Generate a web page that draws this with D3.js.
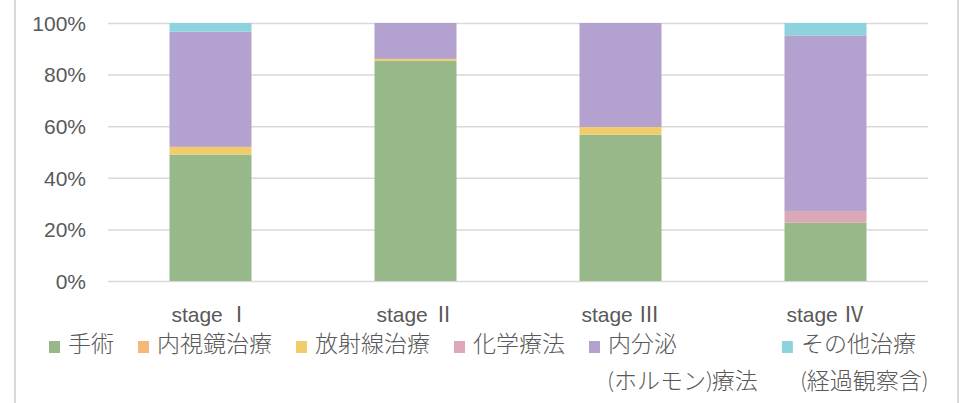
<!DOCTYPE html>
<html><head><meta charset="utf-8">
<script src="https://cdn.jsdelivr.net/npm/d3@7"></script>
<style>
html,body{margin:0;padding:0;background:#fff;}
svg{display:block;font-family:Lato,"Noto Sans CJK JP",sans-serif;}
</style></head>
<body>
<svg id="c" width="967" height="403"></svg>
<script>
const categories = ["stage Ⅰ", "stage Ⅱ", "stage Ⅲ", "stage Ⅳ"];
const seriesNames = ["手術", "内視鏡治療", "放射線治療", "化学療法", "内分泌\n(ホルモン)療法", "その他治療\n(経過観察含)"];
const seriesColors = ["#97b98a", "#f6b877", "#f0cd6a", "#dba8b8", "#b3a2cf", "#8dd3de"];
const surgery      = [49.0, 85.3, 56.7, 22.6];
const endoscopic   = [0, 0, 0, 0];
const radiation    = [3.0, 0.8, 3.0, 0];
const chemo        = [0, 0, 0, 4.5];
const hormone      = [44.6, 13.9, 40.3, 68.1];
const other        = [3.4, 0, 0, 4.8];
const yTicks = [0, 0.2, 0.4, 0.6, 0.8, 1.0];

const seriesValues = [surgery, endoscopic, radiation, chemo, hormone, other];
const rows = categories.map((c, i) => {
  const r = {cat: c};
  seriesValues.forEach((s, k) => r["s" + k] = s[i]);
  return r;
});
const keys = seriesValues.map((_, k) => "s" + k);
const stacked = d3.stack().keys(keys).offset(d3.stackOffsetExpand)(rows);

const svg = d3.select("#c");
const textColor = "#595959";

// outer border
svg.append("rect").attr("x", 15).attr("y", -5).attr("width", 943).attr("height", 420)
  .attr("fill", "none").attr("stroke", "#d9d9d9").attr("stroke-width", 2);

const x = d3.scaleBand().domain(categories).range([108, 928]).paddingInner(0.6).paddingOuter(0.3);
const y = d3.scaleLinear().domain([0, 1]).range([281, 23]);

// gridlines
const yAxis = d3.axisLeft(y).tickValues(yTicks).tickFormat(d3.format(".0%")).tickSize(-(928 - 108)).tickPadding(22);
const gy = svg.append("g").attr("transform", "translate(108,0)").call(yAxis);
gy.select(".domain").remove();
gy.selectAll(".tick line").attr("stroke", "#d9d9d9").attr("stroke-width", 1.5);
gy.selectAll(".tick text").attr("fill", textColor).style("font-size", "21px").attr("dy", "0.35em");

// bars
svg.append("g").selectAll("g").data(stacked).join("g")
  .attr("fill", (d, i) => seriesColors[i])
  .selectAll("rect").data(d => d).join("rect")
  .attr("x", d => x(d.data.cat))
  .attr("width", x.bandwidth())
  .attr("y", d => y(d[1]))
  .attr("height", d => Math.max(0, y(d[0]) - y(d[1])));

// x axis labels
const xAxis = d3.axisBottom(x).tickSize(0).tickPadding(0);
const gx = svg.append("g").attr("transform", "translate(0,281)").call(xAxis);
gx.select(".domain").remove();
gx.selectAll(".tick text").attr("fill", textColor).style("font-size", "21px")
  .attr("y", 41).attr("dy", 0)
  .each(function(d) {
    const parts = d.split(" ");
    const t = d3.select(this).text(null);
    t.append("tspan").text(parts[0] + " ");
    t.append("tspan").style("font-family", "'Noto Sans CJK JP'").text(parts[1]);
  });

// legend
const leg = svg.append("g");
let lx = 49;
seriesNames.forEach((name, i) => {
  const g = leg.append("g").attr("transform", `translate(${lx},0)`);
  g.append("rect").attr("x", 0).attr("y", 341).attr("width", 11).attr("height", 12).attr("fill", seriesColors[i]);
  const lines = name.split("\n");
  let w = 0;
  lines.forEach((ln, j) => {
    const t = g.append("text").attr("x", 19).attr("y", 352 + j * 37)
      .attr("fill", textColor).style("font-size", "23px").style("font-weight", 300).text(ln);
    w = Math.max(w, t.node().getComputedTextLength());
  });
  lx += 19 + w + 24;
});
</script>
</body></html>
